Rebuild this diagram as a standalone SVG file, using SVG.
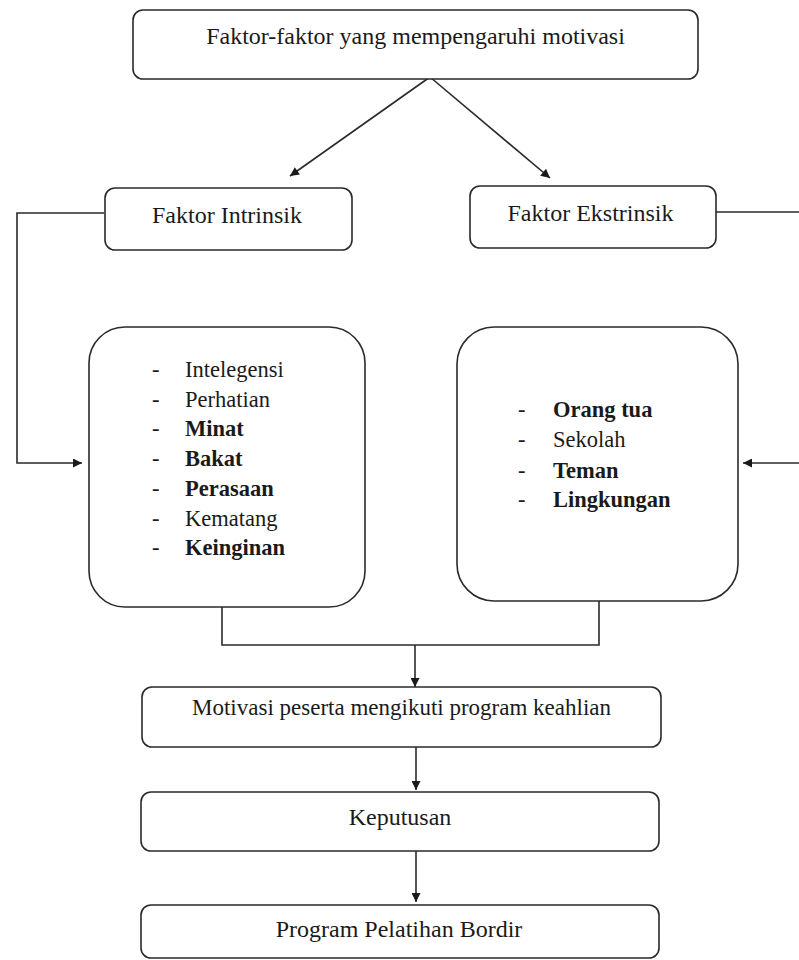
<svg xmlns="http://www.w3.org/2000/svg" width="799" height="960" viewBox="0 0 799 960">
<defs>
<style>
.box{fill:#fff;stroke:#2a2a2a;stroke-width:1.6}
.ln{fill:none;stroke:#2a2a2a;stroke-width:1.6}
text{fill:#1a1a1a}
.c{text-anchor:middle}
.b{font-weight:bold}
</style>
<marker id="ah" viewBox="0 0 10 10" refX="10" refY="5" markerWidth="10" markerHeight="9" markerUnits="userSpaceOnUse" orient="auto">
<path d="M0,0 L10,5 L0,10 z" fill="#1a1a1a"/>
</marker>
</defs>
<rect width="799" height="960" fill="#fff"/>

<g id="connectors">
<line class="ln" x1="430" y1="77" x2="290" y2="176" marker-end="url(#ah)"/>
<line class="ln" x1="430" y1="77" x2="550" y2="178" marker-end="url(#ah)"/>
<polyline class="ln" points="104,213 17,213 17,463 82,463" marker-end="url(#ah)"/>
<polyline class="ln" points="716,212 799,212"/>
<line class="ln" x1="799" y1="463" x2="743" y2="463" marker-end="url(#ah)"/>
<polyline class="ln" points="222,607 222,645 599,645 599,601"/>
<line class="ln" x1="415" y1="645" x2="415" y2="687" marker-end="url(#ah)"/>
<line class="ln" x1="416" y1="747" x2="416" y2="790" marker-end="url(#ah)"/>
<line class="ln" x1="416" y1="851" x2="416" y2="902" marker-end="url(#ah)"/>
</g>

<g font-family="'Liberation Serif', 'DejaVu Serif', serif">
<g id="node-faktor">
<rect class="box" x="133" y="10" width="565" height="69" rx="10"/>
<text class="c" x="415.5" y="44" font-size="24">Faktor-faktor yang mempengaruhi motivasi</text>
</g>

<g id="node-intrinsik">
<rect class="box" x="105" y="188" width="247" height="62" rx="10"/>
<text class="c" x="227" y="223" font-size="24">Faktor Intrinsik</text>
</g>

<g id="node-ekstrinsik">
<rect class="box" x="470" y="186" width="246" height="62" rx="10"/>
<text class="c" x="590.5" y="221" font-size="24">Faktor Ekstrinsik</text>
</g>

<g id="node-intrinsik-list">
<rect class="box" x="89" y="327" width="276" height="280" rx="36"/>
<g font-size="22.5">
<text x="152" y="377">-</text><text x="185" y="377">Intelegensi</text>
<text x="152" y="406.7">-</text><text x="185" y="406.7">Perhatian</text>
<text x="152" y="436.4">-</text><text x="185" y="436.4" class="b">Minat</text>
<text x="152" y="466.1">-</text><text x="185" y="466.1" class="b">Bakat</text>
<text x="152" y="495.8">-</text><text x="185" y="495.8" class="b">Perasaan</text>
<text x="152" y="525.5">-</text><text x="185" y="525.5">Kematang</text>
<text x="152" y="555.2">-</text><text x="185" y="555.2" class="b">Keinginan</text>
</g>
</g>

<g id="node-ekstrinsik-list">
<rect class="box" x="457" y="327" width="281" height="274" rx="37"/>
<g font-size="22.5">
<text x="518" y="417">-</text><text x="553" y="417" class="b">Orang tua</text>
<text x="518" y="447">-</text><text x="553" y="447">Sekolah</text>
<text x="518" y="477.5">-</text><text x="553" y="477.5" class="b">Teman</text>
<text x="518" y="507">-</text><text x="553" y="507" class="b">Lingkungan</text>
</g>
</g>

<g id="node-motivasi">
<rect class="box" x="142" y="687" width="519" height="60" rx="10"/>
<text class="c" x="401.5" y="715" font-size="23">Motivasi peserta mengikuti program keahlian</text>
</g>

<g id="node-keputusan">
<rect class="box" x="141" y="792" width="518" height="59" rx="10"/>
<text class="c" x="400" y="825" font-size="24">Keputusan</text>
</g>

<g id="node-program">
<rect class="box" x="141" y="905" width="518" height="53" rx="10"/>
<text class="c" x="399" y="937" font-size="24">Program Pelatihan Bordir</text>
</g>
</g>
</svg>
